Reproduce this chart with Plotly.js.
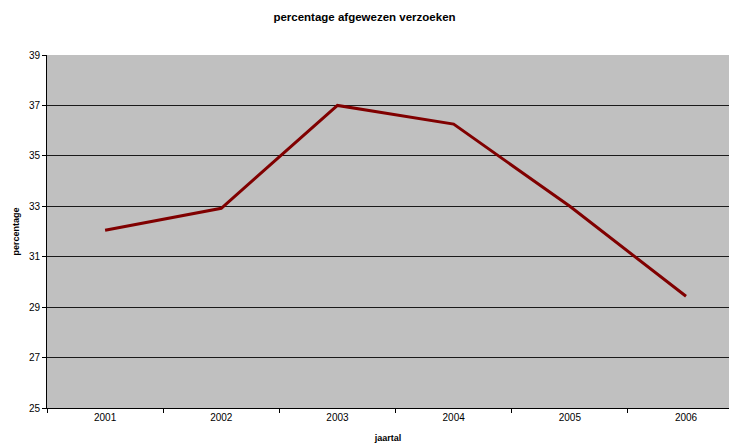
<!DOCTYPE html>
<html>
<head>
<meta charset="utf-8">
<script src="https://cdn.plot.ly/plotly-3.0.1.min.js"></script>
<style>html,body{margin:0;padding:0;background:#fff;}#chart{width:729px;height:443px;}</style>
</head>
<body>
<div id="chart"></div>
<script>
const years = ["2001", "2002", "2003", "2004", "2005", "2006"];
const percentages = [32.05, 32.92, 37.0, 36.26, 33.0, 29.43];
const yTicks = [25, 27, 29, 31, 33, 35, 37, 39];

const trace = {
  x: years,
  y: percentages,
  type: "scatter",
  mode: "lines",
  line: {color: "#800000", width: 3},
  hoverinfo: "x+y"
};

const layout = {
  width: 729,
  height: 443,
  margin: {l: 47, r: 0, t: 55, b: 35},
  paper_bgcolor: "#ffffff",
  plot_bgcolor: "#c0c0c0",
  font: {family: "Liberation Sans, Arial, sans-serif", color: "#000", size: 10},
  showlegend: false,
  title: {
    text: "<b>percentage afgewezen verzoeken</b>",
    font: {size: 11.5, family: "Liberation Sans, Arial, sans-serif", color: "#000"},
    x: 0.5, xanchor: "center", y: 0.962, yanchor: "middle"
  },
  xaxis: {
    type: "category",
    range: [-0.5, 5.37],
    tickson: "boundaries",
    ticks: "outside",
    ticklen: 4,
    tickcolor: "#000",
    showgrid: false,
    showline: true,
    linecolor: "#000",
    linewidth: 1,
    zeroline: false,
    tickfont: {size: 10},
    title: {text: "<b>jaartal</b>", font: {size: 9}, standoff: 13}
  },
  yaxis: {
    range: [25, 39],
    tickvals: yTicks,
    ticktext: yTicks.map(String),
    ticks: "outside",
    ticklen: 4,
    tickcolor: "#000",
    showgrid: true,
    gridcolor: "#1a1a1a",
    gridwidth: 1,
    showline: true,
    linecolor: "#000",
    linewidth: 1,
    zeroline: false,
    tickfont: {size: 10},
    title: {text: "<b>percentage</b>", font: {size: 9}, standoff: 7}
  }
};

Plotly.newPlot("chart", [trace], layout, {displayModeBar: false, staticPlot: true});
</script>
</body>
</html>
